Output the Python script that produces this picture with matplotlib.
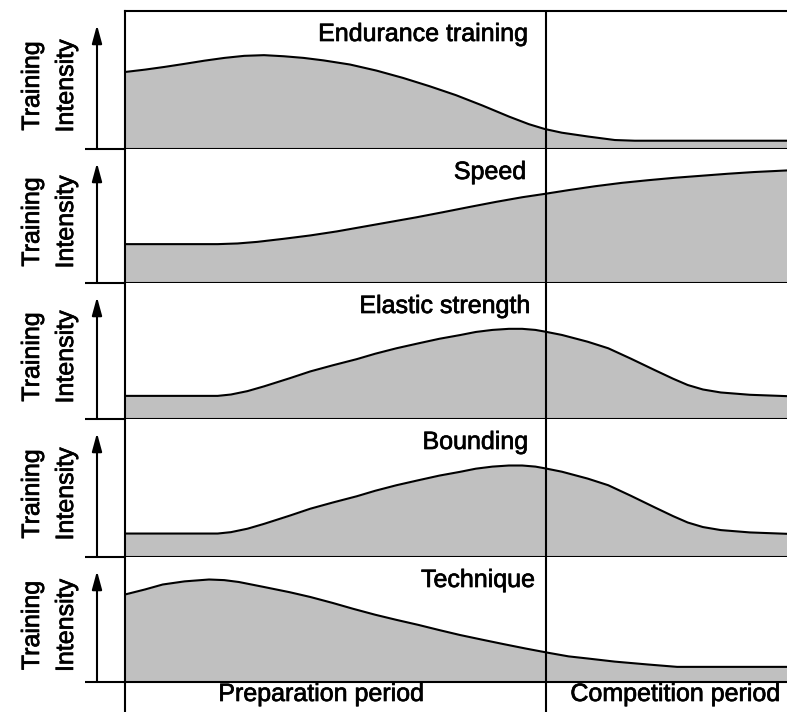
import matplotlib
matplotlib.use('Agg')
import matplotlib.pyplot as plt
import matplotlib.patheffects as pe

plt.rcParams['font.family'] = ['Liberation Sans', 'DejaVu Sans']

# season time (0-100 % of the year) and training intensity (0-1)
t_endurance = [0, 3, 6, 9, 12, 15, 18, 21, 24, 27, 30, 34, 38, 42, 46, 50, 54, 58, 61, 63.4, 66, 70, 74, 77, 100]
endurance = [0.558, 0.575, 0.595, 0.617, 0.64, 0.66, 0.675, 0.68, 0.672, 0.66, 0.642, 0.612, 0.568, 0.515,
             0.455, 0.39, 0.315, 0.235, 0.18, 0.145, 0.118, 0.09, 0.065, 0.06, 0.06]

t_speed = [0, 14, 17, 20, 24, 28, 32, 36, 40, 44, 48, 52, 56, 60, 63.4, 67, 71, 75, 79, 83, 87, 91, 95, 100]
speed = [0.29, 0.29, 0.295, 0.307, 0.33, 0.355, 0.385, 0.42, 0.455, 0.49, 0.528, 0.567, 0.605, 0.64,
         0.665, 0.693, 0.722, 0.747, 0.767, 0.785, 0.8, 0.815, 0.828, 0.84]

t_elastic = [0, 14, 16, 18.5, 21, 24.9, 28, 31.4, 35, 37.8, 41, 44.3, 47.5, 50.6, 53, 55.5, 58, 60, 62,
             63.5, 66, 69.9, 73, 76.4, 80, 82.8, 85, 87.3, 90, 94.4, 100]
elastic = [0.17, 0.17, 0.18, 0.205, 0.24, 0.3, 0.35, 0.395, 0.44, 0.48, 0.52, 0.556, 0.59, 0.617, 0.64,
           0.655, 0.663, 0.663, 0.655, 0.642, 0.618, 0.568, 0.52, 0.444, 0.36, 0.296, 0.25, 0.217, 0.195,
           0.178, 0.168]

t_bounding = [0, 14, 16, 18.5, 21, 24.9, 28, 31.4, 35, 37.8, 41, 44.3, 47.5, 50.6, 53, 55.5, 58, 60, 62,
              63.5, 66, 69.9, 73, 76.4, 80, 82.8, 85, 87.3, 90, 94.4, 100]
bounding = [0.17, 0.17, 0.18, 0.205, 0.24, 0.3, 0.35, 0.395, 0.44, 0.48, 0.52, 0.556, 0.59, 0.617, 0.64,
            0.655, 0.663, 0.663, 0.655, 0.642, 0.618, 0.568, 0.52, 0.444, 0.36, 0.296, 0.25, 0.217, 0.195,
            0.178, 0.168]

t_technique = [0, 3, 5.7, 9, 12.7, 15, 17.2, 21, 24.9, 28, 31.4, 34.5, 37.8, 41, 44.3, 47.5, 50.6, 54,
               57.1, 60.5, 63.9, 67, 69.9, 74, 79, 83.4, 100]
technique = [0.7, 0.74, 0.78, 0.805, 0.82, 0.815, 0.8, 0.76, 0.718, 0.68, 0.632, 0.585, 0.538, 0.497,
             0.457, 0.415, 0.376, 0.338, 0.304, 0.268, 0.234, 0.205, 0.188, 0.163, 0.14, 0.121, 0.121]

titles = ['Endurance training', 'Speed', 'Elastic strength', 'Bounding', 'Technique']
periods = ['Preparation period', 'Competition period']
period_split = 63.6   # end of preparation period (% of season)

series = [(t_endurance, endurance), (t_speed, speed), (t_elastic, elastic),
          (t_bounding, bounding), (t_technique, technique)]

# layout in pixels (787 x 712 picture)
W, H = 787, 712
left_px, right_px = 125, 787
tops = [11, 149, 283, 419, 557]
bottoms = [149, 283, 419, 557, 682]
title_right_px = [528, 526, 530, 528, 535]
period_center_px = [321, 675]

LW = 1.5
FS = 18
GRAY = '#c0c0c0'
# the original lettering is a bit heavier than plain regular
heavy = [pe.withStroke(linewidth=0.5, foreground='k')]


def fx(px):
    # pixel x -> axes fraction
    return (px - left_px) / (right_px - left_px)


fig = plt.figure(figsize=(W / 100, H / 100), dpi=100)

axes = []
for i, (t, v) in enumerate(series):
    h = bottoms[i] - tops[i]
    ax = fig.add_axes([left_px / W, 1 - bottoms[i] / H, (right_px - left_px) / W, h / H])
    ax.fill_between(t, v, 0, color=GRAY, lw=0)
    ax.plot(t, v, color='k', lw=LW, solid_joinstyle='round')
    ax.set_xlim(0, 100)
    ax.set_ylim(0, 1)
    ax.set_xticks([])
    ax.set_yticks([])
    ax.spines['right'].set_visible(False)
    ax.spines['top'].set_visible(i == 0)
    for s in ax.spines.values():
        s.set_linewidth(LW)

    # divider between the two periods
    ax.axvline(period_split, color='k', lw=LW)

    # bottom line runs on to the left past the arrow
    ax.plot([fx(85), 0], [0, 0], transform=ax.transAxes, color='k', lw=LW, clip_on=False,
            solid_capstyle='butt')

    # intensity arrow
    ax.annotate('', xy=(fx(97), 1 - 14 / h), xytext=(fx(97), 0), xycoords='axes fraction',
                arrowprops=dict(arrowstyle='-|>,head_length=1.1,head_width=0.3', color='k',
                                lw=LW, mutation_scale=10, shrinkA=0, shrinkB=0))

    ax.text(fx(32), 0.5 - 6 / h, 'Training', rotation=90, ha='center', va='center',
            fontsize=FS, transform=ax.transAxes, path_effects=heavy)
    ax.text(fx(66), 0.5 - 6 / h, 'Intensity', rotation=90, ha='center', va='center',
            fontsize=FS, transform=ax.transAxes, path_effects=heavy)

    ax.annotate(titles[i], xy=(fx(title_right_px[i]), 1), xycoords='axes fraction',
                xytext=(0, -30 * 0.72), textcoords='offset points',
                ha='right', va='baseline', fontsize=FS, path_effects=heavy)
    axes.append(ax)

# left edge and period divider continue down to the bottom of the picture
last = axes[-1]
last.plot([0, 0], [0, -1], transform=last.transAxes, color='k', lw=LW, clip_on=False)
last.plot([period_split, period_split], [0, -1], transform=last.get_xaxis_transform(),
          color='k', lw=LW, clip_on=False)

for name, cx in zip(periods, period_center_px):
    last.annotate(name, xy=(fx(cx), 0), xycoords='axes fraction',
                  xytext=(0, -19 * 0.72), textcoords='offset points',
                  ha='center', va='baseline', fontsize=FS, path_effects=heavy)

fig.savefig('out.png', dpi=100)
